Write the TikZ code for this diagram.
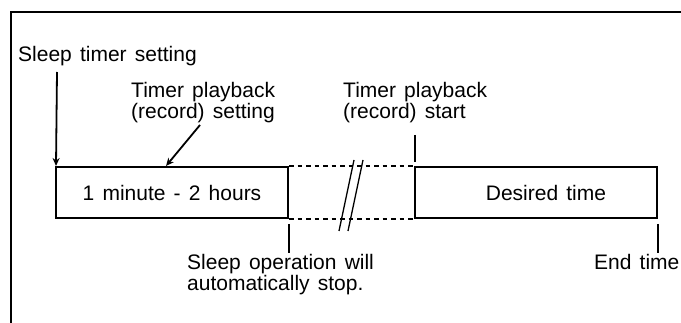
\documentclass[tikz,border=0pt]{standalone}
\usepackage{fontspec}
\setmainfont{Liberation Sans}[WordSpace=1.4]
\usetikzlibrary{arrows.meta}
\begin{document}
\begin{tikzpicture}[x=1pt,y=-1pt,
  every node/.style={font=\fontsize{21}{21}\selectfont, inner sep=0pt, text=black},
  frame/.style={line width=1.8pt},
  boxst/.style={draw, line width=2pt, rectangle, minimum height=51pt},
  conn/.style={line width=1.8pt},
  arr/.style={line width=1.8pt, -{Stealth[length=8pt,width=7pt]}},
  dashln/.style={line width=1.6pt, dash pattern=on 4.5pt off 4pt},
  slash/.style={line width=1.3pt},
  lbl/.style={anchor=base west, align=left}]
\useasboundingbox (0,0) rectangle (681,323);
% frame
\draw[frame] (681,12) -- (11,12) -- (11,323);
% boxes
\node[boxst, minimum width=232pt] (b1) at (172,192.5) {1 minute - 2 hours\hspace{12pt}};
\node[boxst, minimum width=242pt] (b2) at (536,192.5) {\hspace{20pt}Desired time};
% dashed continuation
\draw[dashln] (b1.north east) -- (b2.north west);
\draw[dashln] (b1.south east) -- (b2.south west);
% break marks
\draw[slash] (339,231) -- (354,160);
\draw[slash] (348,231) -- (363,160);
% labels (base anchor = baseline of last line)
\node[lbl] (t1) at (18,62) {Sleep timer setting};
\node[lbl] (t2) at (131,119) {Timer playback\\(record) setting};
\node[lbl] (t3) at (343,119) {Timer playback\\(record) start};
\node[lbl] (t4) at (187,291) {Sleep operation will\\automatically stop.};
\node[lbl] (t5) at (594,270) {End time};
% connectors
\coordinate (a1s) at (57,72);
\coordinate (a1e) at ([xshift=1pt]b1.north west);
\draw[arr] (a1s) -- (a1e);
\coordinate (a2s) at (200,125);
\coordinate (a2e) at (166,166);
\draw[arr] (a2s) -- (a2e);
\coordinate (c3s) at (415,135);
\coordinate (c3e) at (415,162);
\draw[conn] (c3s) -- (c3e);
\draw[conn] ([yshift=-5pt]b1.south east) -- ++(0,29);
\draw[conn] ([yshift=-5pt]b2.south east) -- ++(0,29);
\end{tikzpicture}
\end{document}
